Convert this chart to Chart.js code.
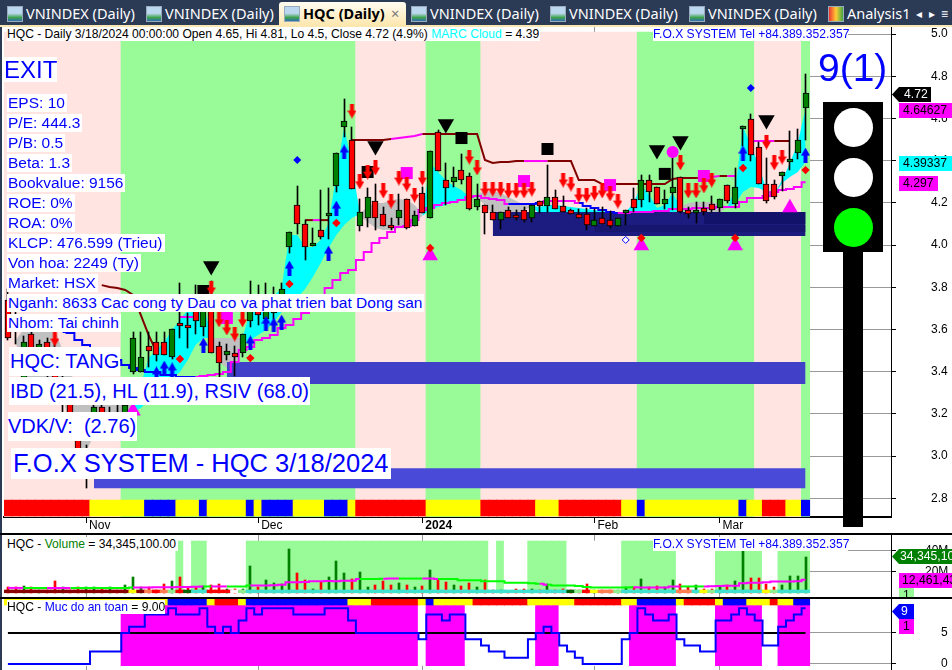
<!DOCTYPE html>
<html>
<head>
<meta charset="utf-8">
<title>HQC (Daily)</title>
<script src="https://cdn.jsdelivr.net/npm/chart.js@4"></script>
<style>
html, body { margin: 0; padding: 0; background: #fff; width: 952px; height: 670px; overflow: hidden; font-family: "Liberation Sans", Arial, sans-serif; }
canvas { position: absolute; left: 0; }
.abs { position: absolute; white-space: pre; }
#tabbar { position: absolute; left: 0; top: 0; width: 952px; height: 25px; background: #2b3a55; border-bottom: 2px solid #fbe7b2; }
.tab { position: absolute; top: 4px; color: #fff; font: 14.5px "Noto Sans", sans-serif; line-height: 19px; white-space: pre; }
.tab i { position: absolute; left: -19px; top: 2px; width: 14px; height: 14px; background: linear-gradient(#bcd8f0 45%, #3fa34d 75%, #2f6fb0); border: 1px solid #9ab; }
#active { position: absolute; left: 279px; top: 2px; width: 127px; height: 24px; background: linear-gradient(#fffdf2, #fde6ad); border-radius: 3px 3px 0 0; }
.note { position: absolute; background: #fff; color: #0000ff; white-space: pre; }
.small { font-size: 15.5px; height: 18px; line-height: 18px; left: 7px; padding: 0 2px 0 1px; }
.big { font-size: 20px; line-height: 28px; }
.head { font-size: 12.1px; height: 14px; line-height: 14px; color: #000; }
.rule { position: absolute; left: 0; width: 952px; height: 2px; background: #000; }
.tag { position: absolute; font-size: 12.2px; line-height: 15px; height: 15px; text-align: left; overflow: hidden; white-space: pre; }
.arrowtag { clip-path: polygon(0 50%, 7px 0, 100% 0, 100% 100%, 7px 100%); background: #000; color: #fff; padding-left: 12px; box-sizing: border-box; }
</style>
</head>
<body>
<canvas id="priceChart" width="952" height="508" style="top:27px"></canvas>
<canvas id="volumeChart" width="952" height="63" style="top:535px"></canvas>
<canvas id="safetyChart" width="952" height="72" style="top:598px"></canvas>

<div id="tabbar"></div>
<div id="active"></div>
<div class="tab" style="left:26px"><i></i>VNINDEX (Daily)</div>
<div class="tab" style="left:165px"><i></i>VNINDEX (Daily)</div>
<div class="tab" style="left:303px;color:#000;font-weight:bold"><i></i>HQC (Daily)</div>
<div class="tab" style="left:391px;color:#777">×</div>
<div class="tab" style="left:430px"><i></i>VNINDEX (Daily)</div>
<div class="tab" style="left:569px"><i></i>VNINDEX (Daily)</div>
<div class="tab" style="left:708px"><i></i>VNINDEX (Daily)</div>
<div class="tab" style="left:847px"><i style="background:linear-gradient(90deg,#e33,#fc3,#4a4)"></i>Analysis1</div>
<div class="tab" style="left:916px;font-size:12px">◂</div>
<div class="tab" style="left:929px;font-size:12px">▸</div>
<div class="tab" style="left:941px;font-size:12px">≡</div>
<div style="position:absolute;left:0;top:27px;width:2px;height:643px;background:#2b3a55"></div>

<div class="rule" style="top:533px"></div>
<div class="rule" style="top:597px"></div>

<!-- traffic light and its value -->
<div style="position:absolute;left:843px;top:250px;width:20px;height:277px;background:#000"></div>
<div style="position:absolute;left:823px;top:102px;width:60px;height:150px;background:#000"></div>
<div style="position:absolute;left:834px;top:108px;width:39px;height:39px;border-radius:50%;background:#fff"></div>
<div style="position:absolute;left:834px;top:158px;width:39px;height:39px;border-radius:50%;background:#fff"></div>
<div style="position:absolute;left:834px;top:208px;width:39px;height:39px;border-radius:50%;background:#00ff00"></div>
<div class="abs" style="left:818px;top:45px;font-size:39px;line-height:46px;color:#0000ff">9(1)</div>

<!-- header rows -->
<div class="note head" style="left:7px;top:27px;width:533px">HQC - Daily 3/18/2024 00:00:00 Open 4.65, Hi 4.81, Lo 4.5, Close 4.72 (4.9%) <span style="color:#00ffff">MARC Cloud</span> = 4.39</div>
<div class="note head" style="left:653px;top:27px;width:195px;color:#0000ff">F.O.X SYSTEM Tel +84.389.352.357</div>
<div class="note head" style="left:7px;top:537px;width:171px">HQC - <span style="color:#008000">Volume</span> = 34,345,100.00</div>
<div class="note head" style="left:653px;top:537px;width:195px;color:#0000ff">F.O.X SYSTEM Tel +84.389.352.357</div>
<div class="note head" style="left:7px;top:600px;width:158px">HQC - <span style="color:#0000ff">Muc do an toan</span> = 9.00</div>

<!-- info boxes -->
<div class="note" style="left:4px;top:57px;height:25px;line-height:25px;font-size:24px;padding-right:0">EXIT</div>
<div class="note small" style="top:94px">EPS: 10</div>
<div class="note small" style="top:114px">P/E: 444.3</div>
<div class="note small" style="top:134px">P/B: 0.5</div>
<div class="note small" style="top:154px">Beta: 1.3</div>
<div class="note small" style="top:174px">Bookvalue: 9156</div>
<div class="note small" style="top:194px">ROE: 0%</div>
<div class="note small" style="top:214px">ROA: 0%</div>
<div class="note small" style="top:234px">KLCP: 476.599 (Trieu)</div>
<div class="note small" style="top:254px">Von hoa: 2249 (Ty)</div>
<div class="note small" style="top:274px">Market: HSX</div>
<div class="note small" style="top:294px">Nganh: 8633 Cac cong ty Dau co va phat trien bat Dong san</div>
<div class="note small" style="top:314px">Nhom: Tai chinh</div>
<div class="note big" style="left:9px;top:347px;width:111px;height:29px;padding-left:1px;box-sizing:border-box">HQC: TANG</div>
<div class="note big" style="left:9px;top:377px;height:28px;padding:0 1px">IBD (21.5), HL (11.9), RSIV (68.0)</div>
<div class="note big" style="left:8px;top:412px;height:29px;padding:0 1px 0 0">VDK/V:  (2.76)</div>
<div class="note" style="left:11px;top:448px;height:31px;line-height:31px;font-size:25.5px;padding:0 2px">F.O.X SYSTEM - HQC 3/18/2024</div>

<!-- value tags on the right scale -->
<div class="tag arrowtag" style="left:892px;top:87px;width:39px">4.72</div>
<div class="tag" style="left:899px;top:103px;width:53px;background:#ff00ff;color:#000;padding-left:4px;box-sizing:border-box">4.64627</div>
<div class="tag" style="left:899px;top:156px;width:53px;background:#00ffff;color:#000;padding-left:4px;box-sizing:border-box">4.39337</div>
<div class="tag" style="left:899px;top:176px;width:39px;background:#ff00ff;color:#000;padding-left:4px;box-sizing:border-box">4.297</div>
<div class="tag arrowtag" style="left:892px;top:549px;width:60px;background:#008000;padding-left:8px">34,345,100</div>
<div class="tag" style="left:899px;top:573px;width:53px;background:#ff00ff;color:#000;padding-left:3px;box-sizing:border-box">12,461,434</div>
<div class="tag" style="left:899px;top:588px;width:15px;height:9px;background:#98fb98;color:#000;padding-left:4px;box-sizing:border-box">1</div>
<div class="tag arrowtag" style="left:892px;top:604px;width:22px;background:#0000ff;padding-left:9px">9</div>
<div class="tag" style="left:899px;top:619px;width:15px;background:#ff00ff;color:#000;padding-left:4px;box-sizing:border-box">1</div>

<script>
// HQC daily, index 0 is 10/18/2023, index 102 is 3/18/2024
const opens = [3.74,3.65,3.37,3.58,3.43,3.54,3.48,3.26,3.29,3.15,2.96,3.12,3.23,3.13,3.21,3.15,3.40,3.40,3.52,3.54,3.54,3.47,3.63,3.62,3.76,3.61,3.74,3.52,3.48,3.49,3.49,3.64,3.74,3.65,3.68,3.74,3.99,4.19,4.10,3.995,4.07,4.147,4.28,4.56,4.50,4.09,4.13,4.21,4.147,4.095,4.13,4.22,4.09,4.246,4.13,4.535,4.31,4.30,4.355,4.327,4.18,4.19,4.156,4.12,4.166,4.14,4.166,4.13,4.21,4.185,4.227,4.185,4.166,4.147,4.147,4.09,4.13,4.118,4.09,4.15,4.22,4.213,4.31,4.275,4.194,4.246,4.32,4.166,4.156,4.175,4.194,4.175,4.285,4.194,4.56,4.597,4.465,4.29,4.29,4.327,4.398,4.436,4.65];
const highs = [3.79,3.69,3.57,3.62,3.55,3.56,3.53,3.40,3.32,3.18,3.05,3.27,3.27,3.23,3.24,3.28,3.59,3.59,3.59,3.59,3.59,3.60,3.82,3.68,3.81,3.78,3.83,3.54,3.53,3.52,3.58,3.83,3.81,3.82,3.80,3.82,4.06,4.28,4.12,4.08,4.26,4.27,4.435,4.69,4.56,4.22,4.27,4.29,4.18,4.13,4.24,4.22,4.16,4.275,4.445,4.545,4.39,4.37,4.43,4.34,4.29,4.19,4.19,4.156,4.18,4.166,4.18,4.19,4.21,4.38,4.26,4.23,4.17,4.17,4.175,4.17,4.18,4.16,4.13,4.166,4.27,4.33,4.33,4.275,4.26,4.417,4.32,4.18,4.204,4.204,4.23,4.22,4.285,4.365,4.565,4.62,4.49,4.41,4.31,4.345,4.54,4.55,4.81];
const lows = [3.55,3.53,3.34,3.42,3.41,3.37,3.35,3.21,3.13,3.01,2.85,3.10,3.13,3.12,3.15,3.13,3.39,3.40,3.42,3.45,3.48,3.46,3.56,3.51,3.58,3.57,3.49,3.37,3.455,3.38,3.47,3.61,3.62,3.62,3.65,3.71,3.96,4.05,3.93,3.995,4.03,4.03,4.25,4.51,4.265,4.066,4.085,4.07,4.09,4.07,4.095,4.075,4.09,4.15,4.13,4.35,4.19,4.275,4.29,4.166,4.166,4.05,4.12,4.075,4.13,4.12,4.11,4.11,4.15,4.156,4.17,4.156,4.147,4.13,4.07,4.09,4.10,4.08,4.09,4.095,4.156,4.18,4.204,4.194,4.17,4.166,4.15,4.13,4.105,4.14,4.156,4.156,4.20,4.175,4.47,4.40,4.29,4.20,4.22,4.256,4.355,4.407,4.50];
const closes = [3.56,3.60,3.54,3.44,3.53,3.43,3.37,3.34,3.15,3.03,3.03,3.23,3.16,3.20,3.17,3.24,3.56,3.47,3.50,3.48,3.48,3.60,3.62,3.61,3.64,3.74,3.49,3.44,3.50,3.47,3.58,3.76,3.67,3.72,3.75,3.79,4.06,4.10,3.99,4.01,4.04,4.15,4.435,4.59,4.265,4.155,4.227,4.13,4.09,4.08,4.166,4.08,4.14,4.15,4.445,4.35,4.27,4.32,4.31,4.17,4.22,4.15,4.12,4.156,4.13,4.13,4.118,4.19,4.185,4.227,4.17,4.156,4.147,4.13,4.095,4.118,4.10,4.09,4.13,4.166,4.175,4.31,4.25,4.194,4.22,4.275,4.156,4.147,4.166,4.156,4.166,4.22,4.21,4.275,4.565,4.426,4.29,4.21,4.227,4.345,4.407,4.498,4.72];

const volumes = [5,5,6.3,5,3,3,11.4,5,3,5,5,5,4,5,3,7.6,15,5.7,5,2.5,8,11.4,15,5,5,6,7,8,4,4,4,25,5,12,9.5,8,42,19,12,4,10,14.6,30,19,12.7,20,5,7.3,10.8,7.3,9.2,7.3,5,6.3,21.6,12.7,10,7.3,6.3,9.5,5,11.7,3,3,1,4,4,4,2.5,8,2.5,3.5,2.5,2.5,8,2.5,2.5,3,3,5,5,12.7,5,6.3,5,12,8,5,7,4,4,6.3,7,11.4,39.7,13.6,14,8,5.5,7,16,16,34.345];
const volumeAverage = [4.6,4.6,4.6,4.5,4.5,4.5,4.6,4.6,4.5,4.5,4.5,4.5,4.5,4.5,4.5,4.6,5,5,5,5.2,5.2,5.3,5.5,5.5,5.8,6,6,6,6,6,6,7,7,7,7.2,7.5,10,10,10.2,11,11,11.2,11,11.5,11.5,13,13,13,13.2,13.5,13.5,13.5,13.5,13.5,13.5,13,13,13,12,12,12,11,11,11,9.5,9.5,9.5,9,8.5,7.5,7,7,7,6.5,5.5,5,5,5,5,5,5.2,5,5,5,5,6,6,6,6,6,6.2,6.5,6.7,6.7,9,9.5,9.5,10,10.7,10.7,10.7,11,12.46];

const safetyLevel = [0,0,0,0,0,0,0,0,0,0,0,2,2,2,2,5,6,6,8,8,8,9,8,8,8,9,6,5,6,5,7,9,8,9,9,9,9,8,8,8,8,9,9,9,7,5,5,5,5,5,5,5,5,4,8,8,7,8,8,4,4,3,2,2,1,1,1,4,5,6,5,3,2,1,0,0,0,0,0,4,5,9,8,7,7,8,4,3,3,2,2,7,7,8,9,8,7,3,3,6,7,8,9];
const safetyMiddle = 5;

const xTickIndexes = [10, 32, 53, 75, 91];
const xTickLabels = ['Nov', 'Dec', '2024', 'Feb', 'Mar'];
const priceTicks = [2.8, 3.0, 3.2, 3.4, 3.6, 3.8, 4.0, 4.2, 4.4, 4.6, 4.8, 5.0];
const volumeTicks = [20, 40];
const safetyTicks = [0, 5];

// runs of [state, number of bars], first bar first
const priceBandRuns = [['P',15],['G',30],['P',9],['G',7],['P',20],['G',15],['P',6],['G',1]];
const priceStripRuns = [['R',11],['Y',7],['B',4],['Y',3],['B',1],['Y',5],['B',1],['Y',1],['B',4],['Y',4],['B',3],['Y',1],['R',9],['Y',7],['R',7],['Y',3],['R',8],['Y',2],['B',1],['Y',12],['B',1],['Y',2],['R',3],['Y',2],['B',1]];
const volumeBandRuns = [['W',22],['G',1],['W',1],['G',2],['W',5],['G',31],['W',1],['G',1],['W',3],['G',5],['W',7],['G',7],['W',5],['G',6],['W',2],['G',4]];
const volumeStripRuns = [['D',16],['Y',1],['D',1],['O',1],['R',1],['O',1],['L',1],['R',1],['K',1],['T',2],['R',3],['W',1],['L',1],['T',41],['K',1],['L',1],['R',1],['Y',1],['O',2],['L',1],['T',7],['O',2],['T',1],['Y',1],['L',1],['T',6],['Y',1],['L',1],['T',4]];
const volumeLineRuns = [['M',2],['G',3],['M',3],['G',8],['M',9],['G',1],['M',2],['G',3],['M',14],['G',3],['M',2],['G',3],['M',2],['G',13],['M',1],['G',11],['M',6],['G',3],['M',14]];
const safetyBandRuns = [['W',15],['M',38],['W',1],['M',5],['W',9],['M',3],['W',9],['M',6],['W',5],['M',6],['W',2],['M',4]];
const safetyStripRuns = [['Y',21],['B',5],['Y',1],['R',3],['Y',1],['B',13],['Y',3],['R',6],['Y',1],['B',1],['Y',5],['R',7],['Y',6],['R',6],['Y',2],['B',5],['Y',1],['R',4],['Y',1],['B',3],['Y',3],['R',1],['Y',2],['B',2]];

// cloud edges, each entry is [first bar, values]
const cyanTopRuns = [
    [16, [3.227,3.336,3.464,3.502,3.540,3.597,3.645,3.692,3.725,3.716,3.569]],
    [30, [3.564,3.682,3.711,3.730,3.758,3.796,4.047,4.047,3.990,3.990,4.024,4.104,4.332,4.559,4.379,4.152]],
    [53, [4.147,4.389,4.346,4.308,4.280,4.261,4.227,4.223]],
    [67, [4.185,4.180,4.190,4.190,4.185,4.180,4.175,4.171,4.166,4.161,4.156,4.156,4.156,4.199,4.284,4.237,4.175,4.190,4.246,4.180]],
    [92, [4.180,4.261,4.559,4.474,4.379,4.261,4.237,4.308,4.389,4.483,4.646]]
];
const cyanBottomRuns = [
    [16, [3.209,3.227,3.265,3.303,3.336,3.370,3.398,3.455,3.526,3.559,3.559]],
    [30, [3.526,3.550,3.573,3.597,3.635,3.682,3.716,3.749,3.791,3.848,3.915,3.986,4.047,4.095,4.128,4.147]],
    [53, [4.137,4.166,4.180,4.190,4.204,4.213,4.223,4.223]],
    [67, [4.180,4.147,4.147,4.147,4.147,4.147,4.147,4.147,4.147,4.147,4.147,4.147,4.147,4.147,4.147,4.147,4.147,4.147,4.147,4.175]],
    [92, [4.180,4.194,4.251,4.275,4.270,4.251,4.237,4.294,4.322,4.346,4.393]]
];
const grayTopRuns = [
    [1, [3.55,3.60,3.63,3.64,3.63,3.60,3.50,3.40,3.30,3.25,3.25,3.25,3.26,3.27,3.26,3.23]],
    [26, [3.559,3.559,3.559,3.559,3.559]],
    [45, [4.152,4.180,4.199,4.199,4.213,4.218,4.213,4.190,4.147]],
    [60, [4.246,4.251,4.256,4.246,4.227,4.208,4.190,4.185]],
    [86, [4.180,4.199,4.204,4.204,4.204,4.194,4.180]],
    [98, [4.237,4.308]]
];
const grayBottomRuns = [
    [1, [3.54,3.37,3.36,3.35,3.35,3.35,3.30,3.10,3.04,3.02,3.10,3.13,3.16,3.18,3.20,3.21]],
    [26, [3.526,3.446,3.417,3.431,3.550]],
    [45, [4.137,4.109,4.081,4.071,4.071,4.081,4.090,4.109,4.137]],
    [60, [4.223,4.190,4.142,4.118,4.128,4.147,4.166,4.180]],
    [86, [4.175,4.152,4.152,4.152,4.152,4.152,4.180]],
    [98, [4.237,4.294]]
];

const lowerLineRuns = [[7, [3.588,3.583,3.550,3.526,3.502,3.493,3.479,3.455,3.431,3.417,3.408,3.398,3.398,3.384,3.384,3.374,3.374,3.374,3.379,3.384,3.389,3.398,3.445,3.502,3.517,3.550,3.559,3.573,3.607,3.621,3.649,3.678,3.692,3.739,3.796,3.834,3.867,3.881,3.929,3.967,4.009,4.033,4.062,4.085,4.090,4.118,4.166,4.175,4.190,4.199,4.204,4.213,4.227,4.232,4.223,4.218,4.213,4.194,4.194,4.194,4.194,4.199,4.208,4.208,4.208,4.208,4.199,4.185,4.175,4.166,4.156,4.152,4.152,4.156,4.156,4.156,4.161,4.161,4.171,4.171,4.171,4.175,4.175,4.175,4.180,4.180,4.180,4.204,4.223,4.223,4.232,4.251,4.261,4.265,4.275,4.297]]];
const lowerLineColorRuns = [['.',7],['B',17],['M',40],['B',4],['M',5],['B',5],['M',25]];
const upperLineRuns = [
    [12, [3.810,3.801,3.796,3.787,3.763,3.668,3.573,3.493]],
    [22, [3.659,3.659,3.659]],
    [38, [4.118,4.118,4.118,4.118]],
    [44, [4.498,4.498,4.498,4.498,4.498,4.502,4.507,4.512,4.517,4.526,4.526,4.526,4.526,4.526,4.526,4.526,4.526,4.403,4.389,4.393,4.393,4.398,4.398,4.398,4.398,4.398,4.398,4.398,4.398,4.308,4.308,4.308,4.289,4.289,4.289,4.289,4.289,4.289,4.289,4.289,4.289,4.313,4.317,4.317,4.317,4.322,4.322,4.327,4.327,4.327]],
    [95, [4.493,4.493,4.493,4.493,4.493,4.493]]
];
const upperLineColorRuns = [['D',22],['M',3],['D',14],['M',1],['D',9],['M',4],['D',13],['M',3],['D',20],['M',2],['D',1],['M',6],['D',9]];

// zones as [first bar, last bar, top price, bottom price, style key]
const zones = [
    [62, 102, 4.156, 4.043, 'navy'],
    [89, 102, 4.156, 4.100, 'navyDark'],
    [75, 102, 4.095, 4.062, 'navyMid'],
    [28, 102, 3.445, 3.341, 'bluePale'],
    [11, 102, 2.942, 2.847, 'bluePale2']
];

// markers as [bar, price]
const blackTriangles = [[26,3.900],[47,4.469],[56,4.573],[83,4.450],[86,4.493],[97,4.592]];
const magentaTriangles = [[16,3.213],[54,3.949],[81,3.997],[93,3.997],[100,4.177]];
const blackSquares = [[25,3.782],[46,4.346],[58,4.507],[69,4.455],[84,4.337]];
const magentaSquares = [[28,3.654],[51,4.341],[66,4.303],[77,4.284],[89,4.327]];
const magentaCircles = [[85,4.441]];
const redDiamonds = [[22,3.460],[31,3.464],[36,3.815],[42,4.104],[54,3.986],[81,4.033],[93,4.033],[94,4.365],[102,4.355]];
const blueDiamonds = [[37,4.403],[95,4.744]];
const hollowDiamonds = [[79,4.024]];
const blueArrows = [[19,3.389],[20,3.417],[21,3.408],[25,3.526],[31,3.536],[33,3.630],[34,3.621],[35,3.635],[36,3.891],[41,3.962],[42,4.175],[43,4.441],[94,4.436],[102,4.426]];
const redArrows = [[6,3.554],[26,3.796],[27,3.645],[28,3.607],[29,3.578],[30,3.645],[44,4.635],[45,4.299],[46,4.346],[47,4.365],[48,4.256],[49,4.208],[50,4.317],[51,4.289],[52,4.237],[53,4.317],[59,4.417],[60,4.365],[61,4.265],[62,4.265],[63,4.265],[64,4.256],[65,4.256],[66,4.256],[67,4.265],[71,4.308],[72,4.289],[73,4.237],[74,4.237],[75,4.246],[76,4.256],[77,4.242],[78,4.208],[86,4.389],[87,4.256],[88,4.256],[89,4.280],[90,4.308],[97,4.488],[98,4.389],[99,4.417]];

const barCount = closes.length;
const barStep = 7.82;
const plotLeft = 4;
const plotRight = 891;
const xMin = -0.5;
const xMax = xMin + (plotRight - plotLeft) / barStep;

const bandColors = { P: '#ffe4e1', G: '#98fb98', W: '#ffffff', M: '#ff00ff' };
const stripColors = { R: '#ff0000', Y: '#ffff00', B: '#0000ff', D: '#8b0000', O: '#ff7f50', L: '#90ee90', K: '#006400', T: '#40e0d0', W: '#ffffff' };
const lineColors = { M: '#ff00ff', G: '#00ff00', B: '#0000ff', D: '#800000', '.': '#0000ff' };
const zoneColors = { navy: '#1c1c80', navyDark: '#12126a', navyMid: '#16166f', bluePale: '#4040c8', bluePale2: '#4a4ad8' };

// keep thin bars on whole pixels so candles stay as crisp as the original
const snapBars = {
    id: 'snapBars',
    afterDatasetsUpdate: function(chart) {
        chart.getSortedVisibleDatasetMetas().forEach(function(meta) {
            if (meta.type !== 'bar') return;
            const thickness = chart.data.datasets[meta.index].barThickness;
            if (thickness > 6) return;
            meta.data.forEach(function(bar) {
                bar.x = thickness % 2 ? Math.floor(bar.x) + 0.5 : Math.round(bar.x);
                bar.y = Math.round(bar.y);
                bar.base = Math.round(bar.base);
                if (thickness === 6 && bar.base - bar.y < 3) bar.base = bar.y + 3;
            });
        });
    }
};

function expand(runs) {
    const out = [];
    runs.forEach(function(r) {
        for (let i = 0; i < r[1]; i++) out.push(r[0]);
    });
    return out;
}

function fromRuns(runs) {
    const out = Array(barCount).fill(null);
    runs.forEach(function(r) {
        r[1].forEach(function(v, i) { out[r[0] + i] = v; });
    });
    return out;
}

function series(values) {
    return values.map(function(v, i) { return { x: i, y: v }; });
}

function markers(list) {
    return list.map(function(m) { return { x: m[0], y: m[1] }; });
}

function rangeBars(states, colors, lo, hi, order) {
    return {
        type: 'bar',
        stack: 's',
        order: order,
        barThickness: 8.4,
        data: states.map(function(s, i) { return { x: i, y: [lo, hi] }; }),
        backgroundColor: states.map(function(s) { return colors[s]; })
    };
}

function lineSet(values, color, width, order, extra) {
    return Object.assign({
        type: 'line',
        data: series(values),
        borderColor: color,
        borderWidth: width,
        pointRadius: 0,
        tension: 0,
        spanGaps: false,
        fill: false,
        order: order
    }, extra || {});
}

function pointSet(list, style, radius, color, order, extra) {
    return Object.assign({
        type: 'line',
        showLine: false,
        data: markers(list),
        pointStyle: style,
        pointRadius: radius,
        pointBackgroundColor: color,
        pointBorderColor: color,
        pointBorderWidth: 0,
        order: order
    }, extra || {});
}

function makeArrow(color, up) {
    const c = document.createElement('canvas');
    c.width = 9;
    c.height = 15;
    const g = c.getContext('2d');
    g.fillStyle = color;
    g.beginPath();
    if (up) {
        g.moveTo(4.5, 0); g.lineTo(9, 8); g.lineTo(6.5, 8); g.lineTo(6.5, 15); g.lineTo(2.5, 15); g.lineTo(2.5, 8); g.lineTo(0, 8);
    } else {
        g.moveTo(4.5, 15); g.lineTo(9, 7); g.lineTo(6.5, 7); g.lineTo(6.5, 0); g.lineTo(2.5, 0); g.lineTo(2.5, 7); g.lineTo(0, 7);
    }
    g.closePath();
    g.fill();
    return c;
}

function segmentColor(codes) {
    return {
        borderColor: function(ctx) { return lineColors[codes[ctx.p0DataIndex]]; }
    };
}

function xScale(showLabels) {
    return {
        type: 'linear',
        min: xMin,
        max: xMax,
        offset: false,
        afterBuildTicks: function(s) { s.ticks = xTickIndexes.map(function(v) { return { value: v }; }); },
        afterFit: function(s) { s.height = showLabels ? 18 : 0; s.paddingLeft = 0; s.paddingRight = 0; },
        border: { display: showLabels, color: '#000', width: 2 },
        grid: { offset: false, color: '#999', borderDash: [1, 2], tickColor: '#000', tickLength: showLabels ? 6 : 0, drawTicks: showLabels },
        ticks: {
            display: showLabels,
            autoSkip: false,
            maxRotation: 0,
            align: 'start',
            labelOffset: 3,
            padding: -5,
            color: '#000',
            font: function(ctx) { return { family: 'Liberation Sans', size: 12, weight: ctx.tick && ctx.tick.value === 53 ? 'bold' : 'normal' }; },
            callback: function(v) { return xTickLabels[xTickIndexes.indexOf(v)]; }
        }
    };
}

function yScale(min, max, tickValues, labelGap, format) {
    return {
        position: 'right',
        min: min,
        max: max,
        stacked: false,
        afterBuildTicks: function(s) { s.ticks = tickValues.map(function(v) { return { value: v }; }); },
        afterFit: function(s) { s.width = 952 - plotRight; s.paddingTop = 0; s.paddingBottom = 0; },
        border: { color: '#000', width: 1 },
        grid: { color: '#999', borderDash: [1, 2], tickColor: '#000', tickLength: 5 },
        ticks: {
            color: '#000',
            padding: labelGap,
            font: { family: 'Liberation Sans', size: 12 },
            callback: format
        }
    };
}

function paneOptions(x, y) {
    return {
        responsive: false,
        animation: false,
        events: [],
        devicePixelRatio: 1,
        layout: { autoPadding: false, padding: { left: plotLeft, right: 0, top: 0, bottom: 0 } },
        plugins: { legend: { display: false }, tooltip: { enabled: false } },
        scales: { x: x, y: y }
    };
}

function initPriceChart() {
    const ctx = document.getElementById('priceChart');
    const sets = [];

    sets.push(rangeBars(expand(priceBandRuns), bandColors, 2.711, 5.0095, 30));
    sets.push(rangeBars(expand(priceStripRuns), stripColors, 2.716, 2.791, 29));

    sets.push(lineSet(fromRuns(grayTopRuns), 'rgba(0,0,0,0)', 0, 28, { fill: '+1', backgroundColor: '#c0c0c0' }));
    sets.push(lineSet(fromRuns(grayBottomRuns), 'rgba(0,0,0,0)', 0, 28));
    sets.push(lineSet(fromRuns(cyanTopRuns), 'rgba(0,0,0,0)', 0, 27, { fill: '+1', backgroundColor: '#00ffff' }));
    sets.push(lineSet(fromRuns(cyanBottomRuns), 'rgba(0,0,0,0)', 0, 27));

    zones.forEach(function(z, n) {
        const top = [], bottom = [];
        [z[0], z[1]].forEach(function(i) { top.push({ x: i, y: z[2] }); bottom.push({ x: i, y: z[3] }); });
        sets.push({ type: 'line', data: top, borderWidth: 0, pointRadius: 0, fill: '+1', backgroundColor: zoneColors[z[4]], order: 26 - n * 0.1 });
        sets.push({ type: 'line', data: bottom, borderWidth: 0, pointRadius: 0, fill: false, order: 26 - n * 0.1 });
    });

    sets.push(lineSet(fromRuns(lowerLineRuns), '#ff00ff', 2, 20, { stepped: 'middle', segment: segmentColor(expand(lowerLineColorRuns)) }));
    sets.push(lineSet(fromRuns(upperLineRuns), '#800000', 2, 20, { segment: segmentColor(expand(upperLineColorRuns)) }));

    sets.push(pointSet(blackSquares, 'rect', 8.5, '#000000', 15));
    sets.push(pointSet(magentaSquares, 'rect', 8.5, '#ff00ff', 15));

    sets.push({
        type: 'bar', stack: 's', order: 10, barThickness: 1,
        data: lows.map(function(v, i) { return { x: i, y: [v, highs[i]] }; }),
        backgroundColor: '#000000'
    });
    sets.push({
        type: 'bar', stack: 's', order: 9, barThickness: 6,
        data: opens.map(function(v, i) { return { x: i, y: [Math.min(v, closes[i]), Math.max(v, closes[i])] }; }),
        backgroundColor: opens.map(function(v, i) { return closes[i] >= v ? '#008000' : '#ff0000'; }),
        borderColor: '#000000',
        borderWidth: 1,
        borderSkipped: false
    });

    sets.push(pointSet(blackTriangles, 'triangle', 9.5, '#000000', 5, { pointRotation: 180 }));
    sets.push(pointSet(magentaTriangles, 'triangle', 9, '#ff00ff', 5));
    sets.push(pointSet(magentaCircles, 'circle', 6, '#ff00ff', 5));
    sets.push(pointSet(redDiamonds, 'rectRot', 4.2, '#ff0000', 4));
    sets.push(pointSet(blueDiamonds, 'rectRot', 4, '#0000ff', 4));
    sets.push({ type: 'line', showLine: false, data: markers(hollowDiamonds), pointStyle: 'rectRot', pointRadius: 3.5, pointBackgroundColor: '#ffffff', pointBorderColor: '#0000ff', pointBorderWidth: 1, order: 4 });
    sets.push(pointSet(blueArrows, makeArrow('#0000ff', true), 7, '#0000ff', 3));
    sets.push(pointSet(redArrows, makeArrow('#ff0000', false), 7, '#ff0000', 3));

    new Chart(ctx, {
        type: 'line',
        data: { datasets: sets },
        options: paneOptions(xScale(true), yScale(2.711, 5.0332, priceTicks, 35, function(v) { return v.toFixed(1); })),
        plugins: [snapBars]
    });
}

function initVolumeChart() {
    const ctx = document.getElementById('volumeChart');
    const barColors = opens.map(function(v, i) { return closes[i] >= v ? '#008000' : '#ff0000'; });
    const sets = [
        rangeBars(expand(volumeBandRuns), bandColors, 0, 49.2, 30),
        {
            type: 'bar', stack: 's', order: 20, barThickness: 2,
            data: series(volumes).map(function(p) { return { x: p.x, y: [0, p.y] }; }),
            backgroundColor: barColors
        },
        rangeBars(expand(volumeStripRuns), stripColors, 0, 2.6, 15),
        lineSet(volumeAverage, '#ff00ff', 2, 10, { stepped: 'middle', segment: segmentColor(expand(volumeLineRuns)) })
    ];
    new Chart(ctx, {
        type: 'line',
        data: { datasets: sets },
        options: paneOptions(xScale(false), yScale(-5, 54.95, volumeTicks, 29, function(v) { return v + 'M'; })),
        plugins: [snapBars]
    });
}

function initSafetyChart() {
    const ctx = document.getElementById('safetyChart');
    const sets = [
        rangeBars(expand(safetyBandRuns), bandColors, -0.27, 9.52, 30),
        rangeBars(expand(safetyStripRuns), stripColors, 9.52, 10.48, 25),
        lineSet(safetyLevel.map(function() { return safetyMiddle; }), '#000000', 2, 20),
        lineSet(safetyLevel, '#0000ff', 2, 10, { stepped: 'middle' })
    ];
    new Chart(ctx, {
        type: 'line',
        data: { datasets: sets },
        options: paneOptions(xScale(false), yScale(-0.97, 10.645, safetyTicks, 45, function(v) { return String(v); }))
    });
}

initPriceChart();
initVolumeChart();
initSafetyChart();
</script>
</body>
</html>
